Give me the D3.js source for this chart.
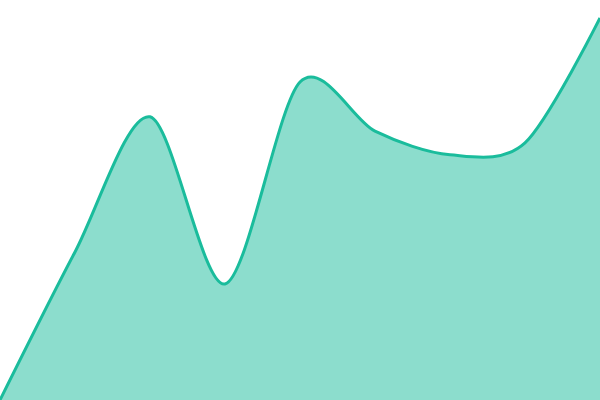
<!DOCTYPE html>
<html>
<head>
    <meta charset="utf-8">
    <script src="https://d3js.org/d3.v7.min.js"></script>
    <style>
        body { margin: 0; }
        .area { fill: #1abc9c; fill-opacity: 0.5; }
        .line { fill: none; stroke: #1abc9c; stroke-width: 3px; }
    </style>
</head>
<body>
<svg width="600" height="400"></svg>
<script>
    var steps = [0, 1, 2, 3, 4, 5, 6, 7, 8];
    var values = [0, 37, 70.8, 29, 79.5, 67.2, 61.3, 64.3, 95.5];

    var svg = d3.select("svg"),
        width = +svg.attr("width"),
        height = +svg.attr("height");

    var x = d3.scaleLinear().domain([0, 8]).range([0, width]);
    var y = d3.scaleLinear().domain([0, 100]).range([height, 0]);

    var data = steps.map(function (s, i) { return { s: s, v: values[i] }; });

    // 平滑曲线
    var curve = d3.curveCardinal.tension(0.1);

    var area = d3.area()
        .curve(curve)
        .x(function (d) { return x(d.s); })
        .y0(height)
        .y1(function (d) { return y(d.v); });

    var line = d3.line()
        .curve(curve)
        .x(function (d) { return x(d.s); })
        .y(function (d) { return y(d.v); });

    svg.append("path").datum(data).attr("class", "area").attr("d", area);
    svg.append("path").datum(data).attr("class", "line").attr("d", line);
</script>
</body>
</html>
